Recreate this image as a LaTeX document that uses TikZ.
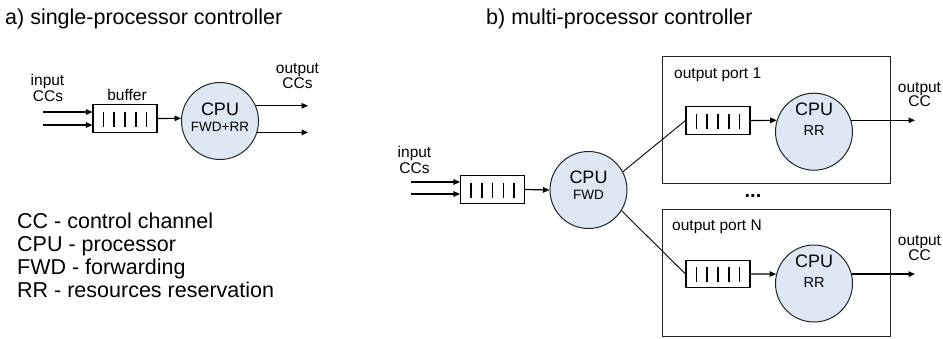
\documentclass[tikz,border=0pt]{standalone}
\usepackage{fontspec}
\setmainfont{Liberation Sans}
\usetikzlibrary{arrows.meta,calc}
\definecolor{cpufill}{RGB}{222,232,245}
\definecolor{linecol}{RGB}{35,35,35}
\newcommand\qbars[1]{\foreach \d in {-21.6,-10.8,0,10.8,21.6}{\draw[line width=1.6pt] ($(#1.center)+(\d,-7)$) -- ($(#1.center)+(\d,8)$);}}
\begin{document}
\begin{tikzpicture}[x=1pt,y=-1pt,
  lbl/.style={inner sep=0pt, anchor=base, font=\fontsize{15.5}{18}\selectfont},
  big/.style={inner sep=0pt, anchor=base west, font=\fontsize{21.5}{24}\selectfont},
  cputxt/.style={inner sep=0pt, anchor=base, font=\fontsize{18}{20}\selectfont},
  subtxt/.style={inner sep=0pt, anchor=base, font=\fontsize{13.5}{15}\selectfont},
  cpu/.style={circle, draw=linecol, line width=1pt, fill=cpufill, minimum size=77pt, inner sep=0pt},
  bufbox/.style={draw=black, line width=1.1pt, minimum width=64pt, minimum height=27.5pt, inner sep=0pt},
  port/.style={draw=linecol, line width=1pt, inner sep=0pt, minimum width=228pt, minimum height=127pt},
  arr/.style={-{Triangle[length=6.5pt,width=5.5pt]}, line width=1.2pt},
  wire/.style={line width=0.9pt}
]
\useasboundingbox (0,0) rectangle (943,338);

% titles
\node[big] (ta) at (5,24) {a) single-processor controller};
\node[big] (tb) at (486,24) {b) multi-processor controller};

% legend
\node[big] (l1) at (17,228) {CC - control channel};
\node[big] (l2) at (17,251) {CPU - processor};
\node[big] (l3) at (17,274) {FWD - forwarding};
\node[big] (l4) at (17,297) {RR - resources reservation};

% ---------- a) ----------
\node[bufbox] (bufa) at (125,118.5) {};
\qbars{bufa}
\node[cpu] (cpua) at (220,121) {};
\node[cputxt] (cpua-t) at (220,115) {CPU};
\node[subtxt] (cpua-s) at (220,131) {FWD+RR};
\node[lbl] (ina1) at (47.5,85) {input};
\node[lbl] (ina2) at (48,101) {CCs};
\node[lbl] (bufalbl) at (127,100) {buffer};
\node[lbl] (outa1) at (297.5,73) {output};
\node[lbl] (outa2) at (297.5,88) {CCs};

\coordinate (ia1) at (43,112);
\coordinate (ia2) at (43,125);
\coordinate (oa) at (308,0);
\draw[arr] (ia1) -- (ia1 -| bufa.west);
\draw[arr] (ia2) -- (ia2 -| bufa.west);
\draw[arr] (bufa.east) -- (cpua.176);
\draw[arr] (cpua.23) -- (cpua.23 -| oa);
\draw[arr] (cpua.-17) -- (cpua.-17 -| oa);

% ---------- b) ----------
\node[port] (port1) at (776,119.5) {};
\node[port] (portn) at (776,272.5) {};
\node[lbl, anchor=base west] (p1lbl) at (674,78) {output port 1};
\node[lbl, anchor=base west] (pnlbl) at (672,230) {output port N};
\node[inner sep=0pt, anchor=base, font=\fontsize{20}{22}\selectfont\bfseries] (dots) at (753,197) {...};

\node[bufbox] (bufb) at (492.5,189.5) {};
\qbars{bufb}
\node[cpu] (cpub) at (588.5,190) {};
\node[cputxt] (cpub-t) at (588.5,183.5) {CPU};
\node[subtxt] (cpub-s) at (588.5,199.5) {FWD};
\node[lbl] (inb1) at (414.5,157) {input};
\node[lbl] (inb2) at (414.5,173) {CCs};

\coordinate (ib1) at (411,182);
\coordinate (ib2) at (411,194);
\draw[arr] (ib1) -- (ib1 -| bufb.west);
\draw[arr] (ib2) -- (ib2 -| bufb.west);
\draw[arr] (bufb.east) -- (cpub.west);

\node[bufbox] (buf1) at (718,120.5) {};
\qbars{buf1}
\node[cpu] (cpu1) at (814,131.7) {};
\node[cputxt] (cpu1-t) at (814,115.5) {CPU};
\node[subtxt, font=\fontsize{14.5}{16}\selectfont] (cpu1-s) at (814,135) {RR};

\node[bufbox] (bufn) at (718,274) {};
\qbars{bufn}
\node[cpu] (cpun) at (814,283.5) {};
\node[cputxt] (cpun-t) at (814,267) {CPU};
\node[subtxt, font=\fontsize{14.5}{16}\selectfont] (cpun-s) at (814,287) {RR};

\draw[wire] (cpub.28) -- (buf1.west);
\draw[wire] (cpub.-32) -- (bufn.west);
\draw[arr] (buf1.east) -- (cpu1.163);
\draw[arr] (bufn.east) -- (cpun.166);

\coordinate (ob) at (915,0);
\draw[arr] (cpu1.17) -- (cpu1.17 -| ob);
\draw[arr] (cpun.14) -- (cpun.14 -| ob);

\node[lbl] (o1a) at (919.5,92) {output};
\node[lbl] (o1b) at (919.5,106) {CC};
\node[lbl] (ona) at (919.5,245) {output};
\node[lbl] (onb) at (919.5,260) {CC};
\end{tikzpicture}
\end{document}
